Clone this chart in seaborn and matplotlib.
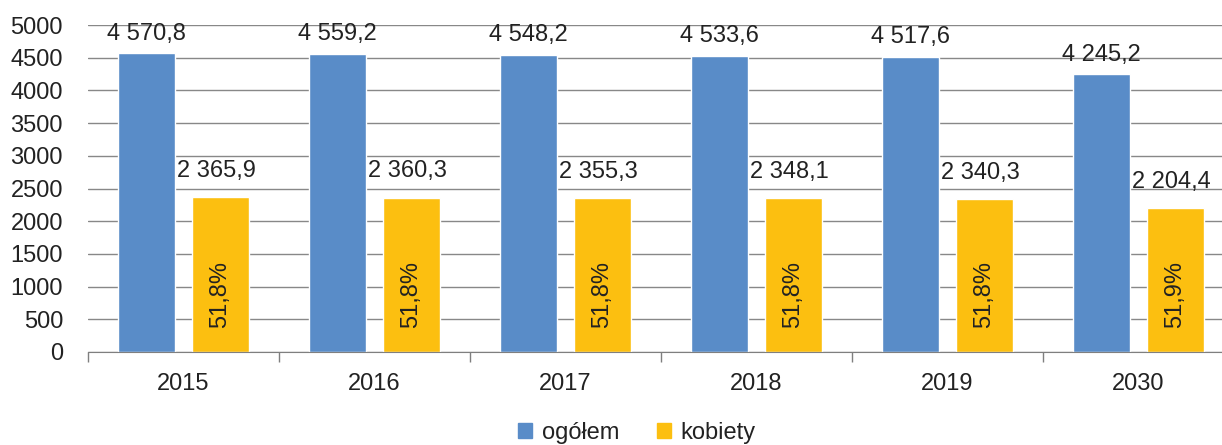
import pandas as pd
import matplotlib
matplotlib.use('Agg')
import matplotlib.pyplot as plt
import seaborn as sns
from matplotlib.ticker import FixedLocator

# Data
years = ['2015', '2016', '2017', '2018', '2019', '2030']
ogolem = [4570.8, 4559.2, 4548.2, 4533.6, 4517.6, 4245.2]
kobiety = [2365.9, 2360.3, 2355.3, 2348.1, 2340.3, 2204.4]
udzial = ['51,8%', '51,8%', '51,8%', '51,8%', '51,8%', '51,9%']

df = pd.DataFrame({
    'rok': years * 2,
    'wartosc': ogolem + kobiety,
    'seria': ['ogółem'] * len(years) + ['kobiety'] * len(years),
})

def fmt(v):
    return f'{v:,.1f}'.replace(',', ' ').replace('.', ',')

sns.set_style('white')
plt.rcParams['font.family'] = ['Liberation Sans', 'DejaVu Sans']

colors = {'ogółem': '#598CC8', 'kobiety': '#FCBF10'}
fs = 17
txt = '#222222'

fig = plt.figure(figsize=(12.22, 4.45), dpi=100)
ax = fig.add_axes([88 / 1222, 93 / 445, 1146 / 1222, 327 / 445])

sns.barplot(data=df, x='rok', y='wartosc', hue='seria', palette=colors,
            width=0.775, gap=0.226, saturation=1, ax=ax, legend=False)

ax.set_ylim(0, 5000)
ax.set_xlim(-0.5, 5.5)
ax.set_yticks(range(0, 5001, 500))
ax.yaxis.grid(True, color='#888888', linewidth=1)
ax.set_axisbelow(True)
ax.set_xlabel('')
ax.set_ylabel('')

for s in ['top', 'right', 'left']:
    ax.spines[s].set_visible(False)
ax.spines['bottom'].set_color('#7f7f7f')

ax.tick_params(axis='y', length=0, labelsize=fs, pad=18, labelcolor=txt)
ax.tick_params(axis='x', which='major', length=0, labelsize=fs, pad=15, labelcolor=txt)
ax.xaxis.set_minor_locator(FixedLocator([i - 0.5 for i in range(len(years) + 1)]))
ax.tick_params(axis='x', which='minor', bottom=True, length=7, color='#7f7f7f', width=1)

# Value labels
blue_bars, yellow_bars = ax.containers[0], ax.containers[1]
for bar, v in zip(blue_bars, ogolem):
    ax.annotate(fmt(v), (bar.get_x() + bar.get_width() / 2, v),
                xytext=(0, 6), textcoords='offset points',
                ha='center', va='bottom', fontsize=fs, color=txt)
for bar, v, p in zip(yellow_bars, kobiety, udzial):
    cx = bar.get_x() + bar.get_width() / 2
    ax.annotate(fmt(v), (cx - 0.02, v),
                xytext=(0, 11), textcoords='offset points',
                ha='center', va='bottom', fontsize=fs, color=txt)
    ax.text(cx, 880, p, rotation=90, ha='center', va='center',
            fontsize=fs, color=txt)

handles = [plt.Rectangle((0, 0), 1, 1, color=colors[k]) for k in ['ogółem', 'kobiety']]
fig.legend(handles, ['ogółem', 'kobiety'], loc='center', ncol=2,
           bbox_to_anchor=(637 / 1222, 1 - 433 / 445), frameon=False,
           fontsize=fs, handlelength=0.6, handleheight=0.6,
           handletextpad=0.4, columnspacing=1.6, labelcolor=txt,
           borderpad=0)

fig.savefig('out.png', dpi=100)
